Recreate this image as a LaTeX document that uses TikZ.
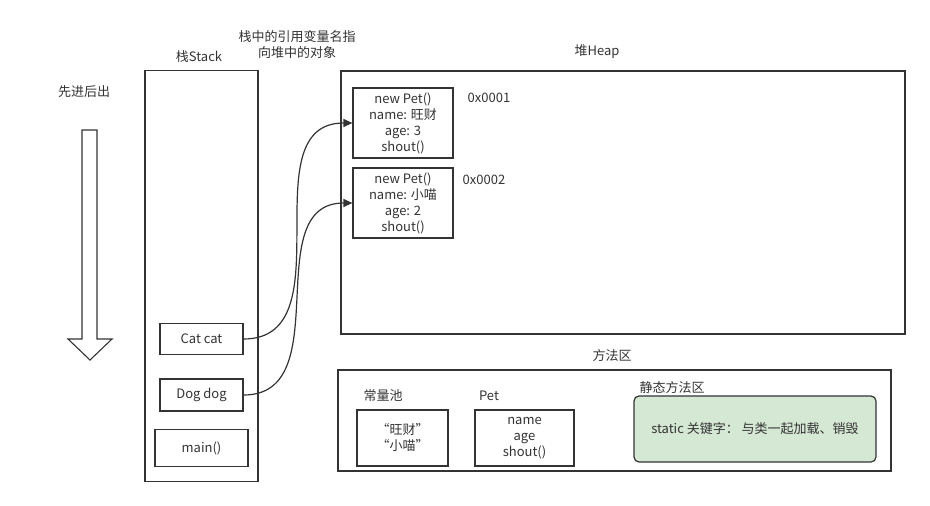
\documentclass[tikz,border=0pt]{standalone}
\usepackage{fontspec}
\setmainfont{Noto Sans CJK SC}
\usepackage{tikz}
\usetikzlibrary{arrows.meta}

\definecolor{ink}{HTML}{333333}
\definecolor{mint}{HTML}{D5E8D4}
\tikzset{
  box/.style={draw=ink, line width=1.2pt, text=ink, align=center, inner sep=0pt},
  lbl/.style={text=ink, align=center, inner sep=0pt},
  ref/.style={draw=ink, line width=1.2pt, -{Triangle[length=9pt,width=8pt]}}
}

\begin{document}
\begin{tikzpicture}[x=1pt, y=-1pt, font=\fontsize{13}{16}\selectfont]
\useasboundingbox (0,0) rectangle (930,506);

% left: stack order arrow
\node[lbl] (order) at (84,92) {先进后出};
\draw[ink, line width=1.1pt] (82,130) -- (97,130) -- (97,339) -- (112,339) -- (90,360)
  -- (68,339) -- (82,339) -- cycle;

% stack
\node[lbl] (stacklbl) at (199,57) {栈Stack};
\node[box, minimum width=113pt, minimum height=411pt] (stack) at (201.5,276) {};
\node[box, minimum width=83pt, minimum height=31pt] (cat) at (201.5,339) {Cat cat};
\node[box, minimum width=83pt, minimum height=32pt] (dog) at (201.5,395) {Dog dog};
\node[box, minimum width=93pt, minimum height=37pt] (main) at (201.5,448) {main()};
\node[lbl] (note) at (297,45) {栈中的引用变量名指\\向堆中的对象};

% heap
\node[lbl] (heaplbl) at (597,52) {堆Heap};
\node[box, minimum width=564pt, minimum height=263pt] (heap) at (623,202.5) {};
\node[box, minimum width=100pt, minimum height=70pt] (pet1) at (403,123)
  {new Pet()\\name: 旺财\\age: 3\\shout()};
\node[box, minimum width=100pt, minimum height=70pt] (pet2) at (403,203)
  {new Pet()\\name: 小喵\\age: 2\\shout()};
\node[lbl] (addr1) at (489,98) {0x0001};
\node[lbl] (addr2) at (484,180) {0x0002};

\draw[ref] (cat.east) to[out=0, in=180, looseness=1.1] (pet1.west);
\draw[ref] (dog.east) to[out=0, in=180, looseness=1.1] (pet2.west);

% method area
\node[lbl] (methodlbl) at (612,356) {方法区};
\node[box, minimum width=553pt, minimum height=101pt] (method) at (614.5,420.5) {};
\node[lbl] (poollbl) at (383,396) {常量池};
\node[box, minimum width=91pt, minimum height=56pt] (pool) at (402.5,438) {“旺财”\\“小喵”};
\node[lbl] (petlbl) at (489,396) {Pet};
\node[box, minimum width=99pt, minimum height=56pt] (petcls) at (524.5,438) {name\\age\\shout()};
\node[lbl] (staticlbl) at (672,388) {静态方法区};
\node[box, fill=mint, rounded corners=5pt, minimum width=242pt, minimum height=66pt] (static)
  at (755,429) {static 关键字： 与类一起加载、销毁};
\end{tikzpicture}
\end{document}
